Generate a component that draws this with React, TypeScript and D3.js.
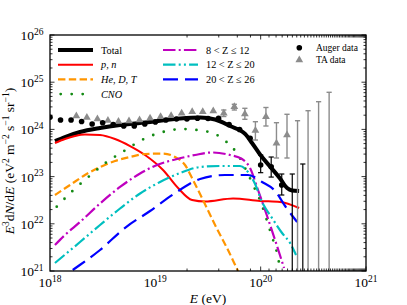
import React from "react";
import * as d3 from "d3";

const width = 407;
const height = 305;
const margin = { top: 35, right: 41, bottom: 34, left: 50 };

// model curves, pairs of [log10 E/eV, log10 E^3 dN/dE]
const totalCurve = [
  [18.047, 23.754], [18.142, 23.839], [18.285, 23.945], [18.475, 24.03],
  [18.665, 24.093], [18.95, 24.157], [19.235, 24.231], [19.425, 24.252],
  [19.567, 24.21], [19.709, 24.072], [19.852, 23.903], [19.918, 23.712],
  [19.994, 23.468], [20.089, 23.214], [20.184, 22.96], [20.251, 22.758],
  [20.298, 22.706], [20.365, 22.695],
];
const protonCurve = [
  [18.047, 23.712], [18.142, 23.797], [18.237, 23.86], [18.332, 23.892],
  [18.475, 23.881], [18.617, 23.797], [18.76, 23.648], [18.902, 23.458],
  [19.073, 23.14], [19.216, 22.758], [19.349, 22.504], [19.472, 22.472],
  [19.738, 22.536], [19.994, 22.483], [20.184, 22.462], [20.365, 22.335],
];
const heliumCurve = [
  [18.047, 22.61], [18.19, 22.822], [18.332, 23.034], [18.475, 23.203],
  [18.617, 23.331], [18.76, 23.415], [18.902, 23.479], [19.073, 23.489],
  [19.187, 23.415], [19.282, 23.246], [19.358, 22.928], [19.443, 22.547],
  [19.567, 21.975], [19.69, 21.445], [19.785, 21.0], [19.852, 20.703],
];
const cnoCurve = [
  [18.064, 22.362], [18.206, 22.68], [18.361, 22.985], [18.522, 23.282],
  [18.693, 23.528], [18.871, 23.775], [19.061, 23.939], [19.263, 24.008],
  [19.425, 23.977], [19.567, 23.903], [19.652, 23.775], [19.728, 23.627],
  [19.785, 23.458], [19.861, 23.14], [19.937, 22.78], [20.004, 22.441],
  [20.07, 21.996], [20.108, 21.72], [20.146, 21.466], [20.184, 21.064],
];
const mgCurve = [
  [18.047, 21.551], [18.142, 21.763], [18.285, 22.038], [18.475, 22.43],
  [18.665, 22.78], [18.855, 23.066], [19.016, 23.246], [19.206, 23.373],
  [19.377, 23.458], [19.538, 23.511], [19.709, 23.458], [19.823, 23.373],
  [19.899, 23.182], [19.975, 22.716], [20.061, 22.165], [20.146, 21.593],
  [20.222, 21.064],
];
const caCurve = [
  [18.047, 21.169], [18.285, 21.614], [18.475, 21.975], [18.665, 22.324],
  [18.855, 22.642], [19.045, 22.886], [19.235, 23.076], [19.425, 23.203],
  [19.614, 23.225], [19.804, 23.225], [19.88, 23.097], [19.947, 22.843],
  [20.013, 22.462], [20.108, 22.123], [20.203, 21.805], [20.279, 21.593],
  [20.336, 21.339],
];
const feCurve = [
  [18.047, 20.746], [18.19, 20.979], [18.475, 21.445], [18.722, 21.932],
  [18.95, 22.271], [19.168, 22.621], [19.425, 22.949], [19.662, 23.034],
  [19.88, 23.034], [20.013, 22.886], [20.137, 22.695], [20.232, 22.377],
  [20.346, 22.038],
];

// Auger data (log10 values)
const augerLgE = [
  18.0, 18.1, 18.2, 18.3, 18.4, 18.5, 18.6, 18.7, 18.8, 18.9, 19.0, 19.1,
  19.2, 19.3, 19.4, 19.5, 19.6, 19.7, 19.8, 19.9, 20.0, 20.1, 20.2,
];
const augerLgJ = [
  24.256, 24.199, 24.199, 24.167, 24.114, 24.142, 24.104, 24.072, 24.072,
  24.114, 24.157, 24.199, 24.22, 24.22, 24.235, 24.231, 24.235, 24.104,
  23.998, 23.811, 23.246, 23.21, 22.822,
];
const augerErrLo = [
  null, null, null, null, null, null, null, null, null, null, null, null,
  null, null, null, null, null, null, null, null, 23.083, 22.99, 22.61,
];
const augerErrHi = [
  null, null, null, null, null, null, null, null, null, null, null, null,
  null, null, null, null, null, null, null, null, 23.458, 23.415, 23.055,
];
const augerLimitLgE = [20.3, 20.4];
const augerLimitLgJ = [23.055, 23.267];

// TA data (log10 values)
const taLgE = [
  18.25, 18.35, 18.45, 18.55, 18.65, 18.75, 18.85, 18.95, 19.05, 19.15, 19.25,
  19.35, 19.45, 19.55, 19.65, 19.75, 19.85, 19.95, 20.05, 20.15, 20.25,
];
const taLgJ = [
  24.284, 24.252, 24.22, 24.189, 24.167, 24.178, 24.199, 24.235, 24.269,
  24.29, 24.341, 24.375, 24.375, 24.39, 24.341, 24.481, 24.326, 23.977,
  24.269, 23.706, 23.881,
];
const taErrLo = [
  null, null, null, null, null, null, null, null, null, null, null, null,
  null, null, 24.273, 24.411, 24.214, 23.775, 24.072, 23.394, 23.394,
];
const taErrHi = [
  null, null, null, null, null, null, null, null, null, null, null, null,
  null, null, 24.411, 24.532, 24.447, 24.163, 24.464, 24.142, 24.32,
];
const taLimitLgE = [20.35, 20.45, 20.55, 20.65];
const taLimitLgJ = [24.184, 24.396, 24.587, 24.786];

const xTickExps = [18, 19, 20, 21];
const yTickExps = [21, 22, 23, 24, 25, 26];

const serif = "'Liberation Serif', 'DejaVu Serif', serif";

const series = [
  { key: "total", data: totalCurve, label: "Total", italic: false, color: "#000000", lw: 4, dash: null, col: 0, row: 0 },
  { key: "p", data: protonCurve, label: "p, n", italic: true, color: "#ff0000", lw: 2, dash: null, col: 0, row: 1 },
  { key: "he", data: heliumCurve, label: "He, D, T", italic: true, color: "#ff9500", lw: 2.2, dash: "7.4 3.4", col: 0, row: 2 },
  { key: "cno", data: cnoCurve, label: "CNO", italic: true, color: "#138a13", lw: 2.8, dash: "0 11", col: 0, row: 3 },
  { key: "mg", data: mgCurve, label: "8 < Z ≤ 12", italic: false, color: "#bf00bf", lw: 2.2, dash: "12.5 3.2 2 3.2", col: 1, row: 0 },
  { key: "ca", data: caCurve, label: "12 < Z ≤ 20", italic: false, color: "#00bfbf", lw: 2.2, dash: "12.5 3.2 2 3.2 2 3.2", col: 1, row: 1 },
  { key: "fe", data: feCurve, label: "20 < Z ≤ 26", italic: false, color: "#0000ff", lw: 2.2, dash: "15 7", col: 1, row: 2 },
];

export default function App() {
  const innerW = width - margin.left - margin.right;
  const innerH = height - margin.top - margin.bottom;
  const x0 = margin.left;
  const x1 = margin.left + innerW;
  const y0 = margin.top;
  const y1 = margin.top + innerH;

  const x = d3.scaleLog().domain([1e18, 1e21]).range([x0, x1]);
  const y = d3.scaleLog().domain([1e21, 1e26]).range([y1, y0]);
  const px = (lg) => x(Math.pow(10, lg));
  const py = (lg) => y(Math.pow(10, lg));

  const line = d3
    .line()
    .x((d) => px(d[0]))
    .y((d) => py(d[1]))
    .curve(d3.curveMonotoneX);

  const xTicks = x.ticks(60);
  const yTicks = y.ticks(60);
  const isMajor = (t) => Math.abs(Math.log10(t) - Math.round(Math.log10(t))) < 1e-9;

  const gray = "#8c8c8c";
  const triangle = d3.symbol().type(d3.symbolTriangle).size(26)();
  const cap = 2.6;

  return (
    <svg width={width} height={height} style={{ position: "absolute", left: 0, top: 0, background: "#fff" }} fontFamily={serif}>
      <defs>
        <clipPath id="plotClip">
          <rect x={x0} y={y0} width={innerW} height={innerH} />
        </clipPath>
      </defs>

      <g clipPath="url(#plotClip)">
        {series.map((s) => (
          <path
            key={s.key}
            d={line(s.data)}
            fill="none"
            stroke={s.color}
            strokeWidth={s.lw}
            strokeDasharray={s.dash || undefined}
            strokeLinecap={s.key === "cno" ? "round" : "butt"}
            strokeLinejoin="round"
          />
        ))}

        {/* TA data */}
        {taLgE.map((e, i) =>
          taErrLo[i] != null ? (
            <g key={"tae" + i} stroke={gray} strokeWidth={1.4}>
              <line x1={px(e)} x2={px(e)} y1={py(taErrLo[i])} y2={py(taErrHi[i])} />
              <line x1={px(e) - cap} x2={px(e) + cap} y1={py(taErrLo[i])} y2={py(taErrLo[i])} />
              <line x1={px(e) - cap} x2={px(e) + cap} y1={py(taErrHi[i])} y2={py(taErrHi[i])} />
            </g>
          ) : null
        )}
        {taLimitLgE.map((e, i) => (
          <g key={"tal" + i} stroke={gray} strokeWidth={1.4}>
            <line x1={px(e)} x2={px(e)} y1={py(taLimitLgJ[i])} y2={y1 + 5} />
            <line x1={px(e) - cap} x2={px(e) + cap} y1={py(taLimitLgJ[i])} y2={py(taLimitLgJ[i])} />
          </g>
        ))}
        {taLgE.map((e, i) => (
          <path key={"ta" + i} d={triangle} transform={`translate(${px(e)},${py(taLgJ[i])})`} fill={gray} />
        ))}

        {/* Auger data */}
        {augerLgE.map((e, i) =>
          augerErrLo[i] != null ? (
            <g key={"ae" + i} stroke="#000" strokeWidth={1.2}>
              <line x1={px(e)} x2={px(e)} y1={py(augerErrLo[i])} y2={py(augerErrHi[i])} />
              <line x1={px(e) - cap} x2={px(e) + cap} y1={py(augerErrLo[i])} y2={py(augerErrLo[i])} />
              <line x1={px(e) - cap} x2={px(e) + cap} y1={py(augerErrHi[i])} y2={py(augerErrHi[i])} />
            </g>
          ) : null
        )}
        {augerLimitLgE.map((e, i) => (
          <g key={"al" + i} stroke="#000" strokeWidth={1.2}>
            <line x1={px(e)} x2={px(e)} y1={py(augerLimitLgJ[i])} y2={y1 + 5} />
            <line x1={px(e) - cap} x2={px(e) + cap} y1={py(augerLimitLgJ[i])} y2={py(augerLimitLgJ[i])} />
          </g>
        ))}
        {augerLgE.map((e, i) => (
          <circle key={"a" + i} cx={px(e)} cy={py(augerLgJ[i])} r={2.8} fill="#000" />
        ))}
      </g>

      {/* ticks, all four sides, pointing in */}
      <g stroke="#000" strokeWidth={0.8}>
        {xTicks.map((t, i) => {
          const len = isMajor(t) ? 4.5 : 2.5;
          return (
            <g key={"xt" + i}>
              <line x1={x(t)} x2={x(t)} y1={y1} y2={y1 - len} />
              <line x1={x(t)} x2={x(t)} y1={y0} y2={y0 + len} />
            </g>
          );
        })}
        {yTicks.map((t, i) => {
          const len = isMajor(t) ? 4.5 : 2.5;
          return (
            <g key={"yt" + i}>
              <line x1={x0} x2={x0 + len} y1={y(t)} y2={y(t)} />
              <line x1={x1} x2={x1 - len} y1={y(t)} y2={y(t)} />
            </g>
          );
        })}
      </g>
      <rect x={x0} y={y0} width={innerW} height={innerH} fill="none" stroke="#000" strokeWidth={1.3} />

      {/* tick labels */}
      <g fontSize={13.5} fill="#000">
        {xTickExps.map((e) => (
          <text key={"xl" + e} x={px(e)} y={y1 + 16} textAnchor="middle">
            10<tspan dy={-5.5} fontSize={9.5}>{e}</tspan>
          </text>
        ))}
        {yTickExps.map((e) => (
          <text key={"yl" + e} x={x0 - 6.5} y={py(e) + 5} textAnchor="end">
            10<tspan dy={-5.5} fontSize={9.5}>{e}</tspan>
          </text>
        ))}
      </g>

      {/* axis labels */}
      <text x={(x0 + x1) / 2} y={height - 2} textAnchor="middle" fontSize={13.5}>
        <tspan fontStyle="italic">E</tspan> (eV)
      </text>
      <text transform={`translate(14,${(y0 + y1) / 2 + 8}) rotate(-90)`} textAnchor="middle" fontSize={13.5}>
        <tspan fontStyle="italic">E</tspan>
        <tspan dy={-5.5} fontSize={9.5}>3</tspan>
        <tspan dy={5.5}>d</tspan>
        <tspan fontStyle="italic">N</tspan>/d<tspan fontStyle="italic">E</tspan> (eV
        <tspan dy={-5.5} fontSize={9.5}>2</tspan>
        <tspan dy={5.5}> m</tspan>
        <tspan dy={-5.5} fontSize={9.5}>−2</tspan>
        <tspan dy={5.5}> s</tspan>
        <tspan dy={-5.5} fontSize={9.5}>−1</tspan>
        <tspan dy={5.5}> sr</tspan>
        <tspan dy={-5.5} fontSize={9.5}>−1</tspan>
        <tspan dy={5.5}>)</tspan>
      </text>

      {/* model legend */}
      <g fontSize={10.3}>
        {series.map((s) => {
          const lx = s.col === 0 ? 58 : 163;
          const ly = 50 + s.row * 14.7;
          return (
            <g key={"lg" + s.key}>
              <line
                x1={lx}
                x2={lx + 35}
                y1={ly}
                y2={ly}
                stroke={s.color}
                strokeWidth={s.lw}
                strokeDasharray={s.dash || undefined}
                strokeDashoffset={s.key === "cno" ? -2.7 : 0}
                strokeLinecap={s.key === "cno" ? "round" : "butt"}
              />
              <text x={lx + 43} y={ly + 3.6} fontStyle={s.italic ? "italic" : "normal"}>
                {s.label}
              </text>
            </g>
          );
        })}
      </g>

      {/* data legend */}
      <g fontSize={9.5}>
        <circle cx={299.3} cy={47.7} r={2.8} fill="#000" />
        <text x={316} y={51}>Auger data</text>
        <path d={triangle} transform="translate(299.3,60)" fill={gray} />
        <text x={316} y={63.3}>TA data</text>
      </g>
    </svg>
  );
}
